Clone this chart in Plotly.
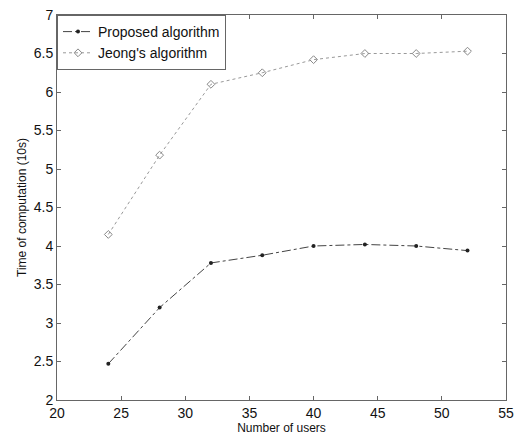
import plotly.graph_objects as go

users = [24, 28, 32, 36, 40, 44, 48, 52]
proposed = [2.47, 3.2, 3.78, 3.88, 4.0, 4.02, 4.0, 3.94]
jeong = [4.15, 5.18, 6.1, 6.25, 6.42, 6.5, 6.5, 6.53]
x_ticks = [20, 25, 30, 35, 40, 45, 50, 55]
y_ticks = [2, 2.5, 3, 3.5, 4, 4.5, 5, 5.5, 6, 6.5, 7]

FONT = "Liberation Sans, Arial, sans-serif"

fig = go.Figure()
fig.add_trace(go.Scatter(
    x=users, y=proposed, name="Proposed algorithm", mode="lines+markers",
    line=dict(color="#444444", width=1, dash="dashdot"),
    marker=dict(symbol="circle", size=4, color="#222222"),
))
fig.add_trace(go.Scatter(
    x=users, y=jeong, name="Jeong's algorithm", mode="lines+markers",
    line=dict(color="#999999", width=1, dash="dot"),
    marker=dict(symbol="diamond-open", size=6, color="#888888", line=dict(width=1)),
))

axis_common = dict(
    showline=True, mirror="ticks", linecolor="#666666", linewidth=1,
    ticks="inside", ticklen=4, tickcolor="#666666",
    showgrid=False, zeroline=False, automargin=False,
    tickfont=dict(family=FONT, size=14, color="#111111"),
)
fig.update_xaxes(range=[20, 55], tickvals=x_ticks,
                 title=dict(text="Number of users", standoff=0,
                            font=dict(family=FONT, size=12, color="#111111")),
                 **axis_common)
fig.update_yaxes(range=[2, 7], tickvals=y_ticks,
                 title=dict(text="Time of computation (10s)", standoff=4,
                            font=dict(family=FONT, size=12, color="#111111")),
                 **axis_common)

fig.update_layout(
    width=531, height=438,
    margin=dict(l=57, r=25, t=15, b=38),
    paper_bgcolor="white", plot_bgcolor="white",
    legend=dict(x=0.0, y=1.0, xanchor="left", yanchor="top",
                bgcolor="white", bordercolor="#666666", borderwidth=1,
                font=dict(family=FONT, size=14, color="#111111"),
                tracegroupgap=0, itemwidth=30),
    showlegend=True,
)

fig.write_html("out.html",
               config={"displayModeBar": False},
               post_script="document.body.style.margin='0';document.body.style.overflow='hidden';")
